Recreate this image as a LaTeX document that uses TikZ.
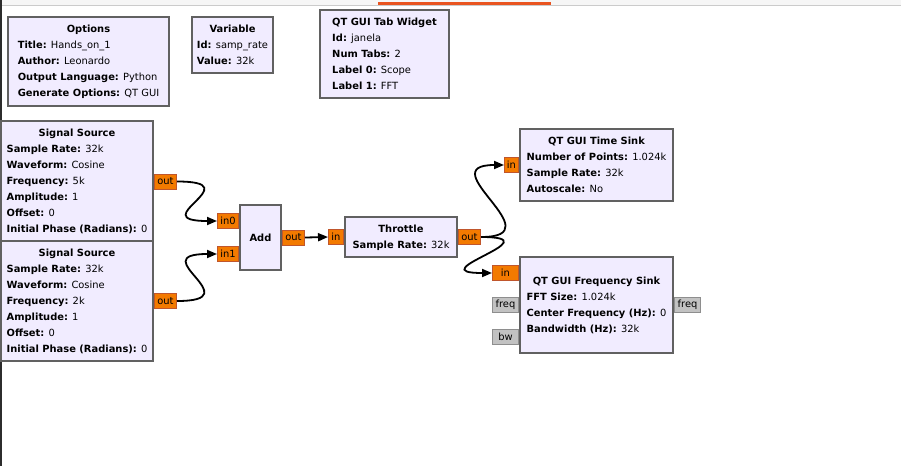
\documentclass[tikz,border=0pt]{standalone}
\usepackage{fontspec}
\setmainfont{DejaVu Sans}
\usetikzlibrary{positioning,arrows.meta}
\definecolor{blockfill}{HTML}{F1ECFF}
\definecolor{blockedge}{HTML}{616161}
\definecolor{portfill}{HTML}{F37A00}
\definecolor{portedge}{HTML}{C0562C}
\definecolor{msgfill}{HTML}{C2C2C2}
\definecolor{msgedge}{HTML}{8E8E8E}
\definecolor{barfill}{HTML}{F6F6F6}
\definecolor{bargray}{HTML}{CBCBCB}
\definecolor{tabline}{HTML}{E95420}
\definecolor{edgedark}{HTML}{2C2C2C}
\newcommand{\blkfont}{\fontsize{9.9}{16}\selectfont}
\newcommand{\blk}[2]{\begin{tabular}{@{}l@{}}\multicolumn{1}{@{}c@{}}{\bfseries #1}\\#2\end{tabular}}
\newcommand{\prm}[2]{\textbf{#1:} #2}
\tikzset{
  block/.style={draw=blockedge, line width=2pt, fill=blockfill, inner sep=0pt, font=\blkfont},
  port/.style={draw=portedge, line width=1pt, fill=portfill, inner sep=0.5pt, minimum height=15pt, font=\fontsize{9.9}{12}\selectfont},
  msgport/.style={port, draw=msgedge, fill=msgfill},
  wire/.style={black, line width=1.8pt, -{Triangle[length=10pt,width=8pt]}}
}
\begin{document}
\begin{tikzpicture}[x=1pt,y=-1pt]
% Frame
\useasboundingbox (0,0) rectangle (901,466);
\fill[barfill] (0,0) rectangle (901,5);
\draw[bargray] (0,5.5) -- (901,5.5);
\draw[line width=3pt, tabline] (378,3) -- (551,3);
\draw[line width=1.5pt, edgedark] (0.75,0) -- (0.75,466);
% Variables
\node[block, minimum width=161pt, minimum height=89pt] (opts) at (88.5,61.5)
  {\blk{Options}{\prm{Title}{Hands\_on\_1}\\ \prm{Author}{Leonardo}\\ \prm{Output Language}{Python}\\ \prm{Generate Options}{QT GUI}}};
\node[block, minimum width=81pt, minimum height=56pt] (var) at (232.5,45)
  {\blk{Variable}{\prm{Id}{samp\_rate}\\ \prm{Value}{32k}}};
\node[block, minimum width=129pt, minimum height=88pt] (tabw) at (384.5,54)
  {\blk{QT GUI Tab Widget}{\prm{Id}{janela}\\ \prm{Num Tabs}{2}\\ \prm{Label 0}{Scope}\\ \prm{Label 1}{FFT}}};
% Blocks
\node[block, minimum width=152pt, minimum height=121pt] (src1) at (77,181.5)
  {\blk{Signal Source}{\prm{Sample Rate}{32k}\\ \prm{Waveform}{Cosine}\\ \prm{Frequency}{5k}\\ \prm{Amplitude}{1}\\ \prm{Offset}{0}\\ \prm{Initial Phase (Radians)}{0}}};
\node[block, minimum width=152pt, minimum height=120pt] (src2) at (77,301)
  {\blk{Signal Source}{\prm{Sample Rate}{32k}\\ \prm{Waveform}{Cosine}\\ \prm{Frequency}{2k}\\ \prm{Amplitude}{1}\\ \prm{Offset}{0}\\ \prm{Initial Phase (Radians)}{0}}};
\node[block, minimum width=41pt, minimum height=65pt] (add) at (260.5,237.5) {\bfseries Add};
\node[block, minimum width=112pt, minimum height=40pt] (thr) at (401,237)
  {\blk{Throttle}{\prm{Sample Rate}{32k}}};
\node[block, minimum width=153pt, minimum height=72pt] (tsink) at (596.5,165)
  {\blk{QT GUI Time Sink}{\prm{Number of Points}{1.024k}\\ \prm{Sample Rate}{32k}\\ \prm{Autoscale}{No}}};
\node[block, minimum width=153pt, minimum height=96pt] (fsink) at (596.5,305)
  {\blk{QT GUI Frequency Sink}{\prm{FFT Size}{1.024k}\\ \prm{Center Frequency (Hz)}{0}\\ \prm{Bandwidth (Hz)}{32k}}};
% Ports
\node[port, minimum width=22pt, anchor=west] (src1out) at (src1.east) {out};
\node[port, minimum width=22pt, anchor=west] (src2out) at (src2.east) {out};
\node[port, minimum width=21pt, anchor=east] (addin0) at ([yshift=16.5pt]add.west) {in0};
\node[port, minimum width=21pt, anchor=east] (addin1) at ([yshift=-16.5pt]add.west) {in1};
\node[port, minimum width=22pt, anchor=west] (addout) at (add.east) {out};
\node[port, minimum width=15pt, anchor=east] (thrin) at (thr.west) {in};
\node[port, minimum width=22pt, anchor=west] (throut) at (thr.east) {out};
\node[port, minimum width=14pt, anchor=east] (tsinkin) at (tsink.west) {in};
\node[port, minimum width=26pt, anchor=east] (fsinkin) at ([yshift=32pt]fsink.west) {in};
\node[msgport, minimum width=26pt, anchor=east] (fsinkfreq) at (fsink.west) {freq};
\node[msgport, minimum width=26pt, anchor=east] (fsinkbw) at ([yshift=-31.5pt]fsink.west) {bw};
\node[msgport, minimum width=26pt, anchor=west] (fsinkfout) at (fsink.east) {freq};
% Connections
\draw[wire] (src1out.east) .. controls +(75,0) and +(-75,0) .. (addin0.west);
\draw[wire] (src2out.east) .. controls +(75,0) and +(-75,0) .. (addin1.west);
\draw[wire] (addout.east) -- (thrin.west);
\draw[wire] (throut.east) .. controls +(75,0) and +(-75,0) .. (tsinkin.west);
\draw[wire] (throut.east) .. controls +(75,0) and +(-75,0) .. (fsinkin.west);
\end{tikzpicture}
\end{document}
